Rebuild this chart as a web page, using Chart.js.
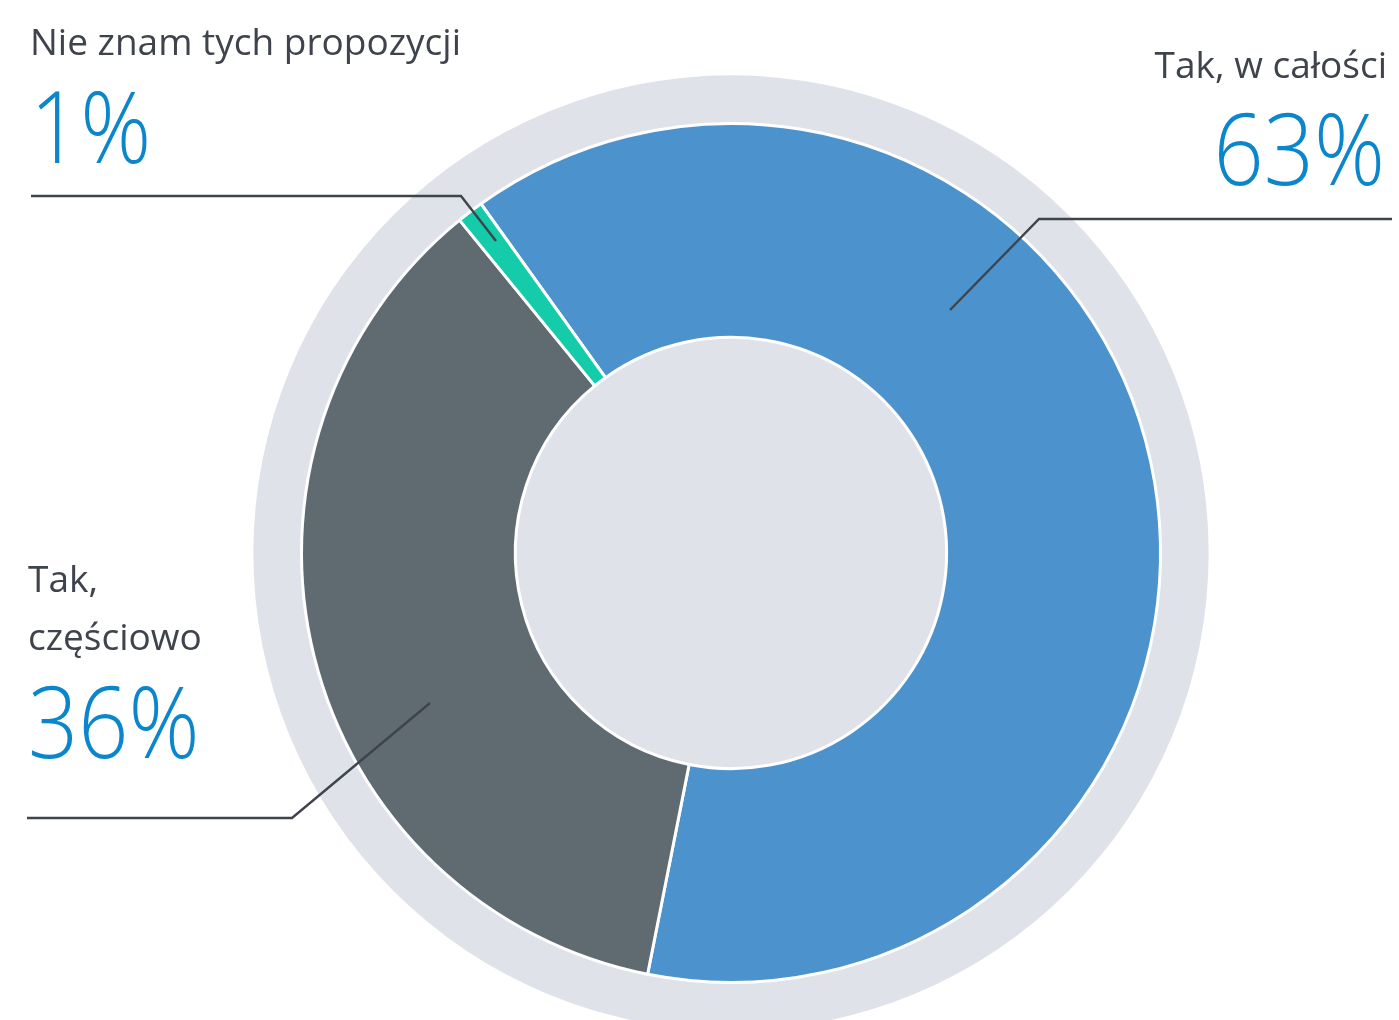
<!DOCTYPE html>
<html>
<head>
<meta charset="utf-8">
<script src="https://cdn.jsdelivr.net/npm/chart.js@4/dist/chart.umd.min.js"></script>
<style>
  html, body { margin: 0; padding: 0; background: #fff; }
  #wrap { width: 1399px; height: 1020px; position: relative; }
</style>
</head>
<body>
<div id="wrap"><canvas id="chart"></canvas></div>
<script>
// data
const labels = ['Tak, w całości', 'Tak, częściowo', 'Nie znam tych propozycji'];
const values = [63, 36, 1];
const colors = ['#4c93ce', '#5f6b71', '#14ccaa'];
const percentText = ['63%', '36%', '1%'];

const TEXT_DARK = '#3f434c';
const TEXT_BLUE = '#0b86cc';
const RING_GRAY = '#dfe2e9';

// backdrop: big gray disc behind the ring and the filled hole
const backdrop = {
  id: 'backdrop',
  beforeDatasetsDraw(chart) {
    const arc = chart.getDatasetMeta(0).data[0];
    if (!arc) return;
    const ctx = chart.ctx;
    ctx.save();
    ctx.fillStyle = RING_GRAY;
    ctx.beginPath();
    ctx.arc(arc.x, arc.y, arc.outerRadius * 476 / 428, 0, Math.PI * 2);
    ctx.fill();
    ctx.restore();
  }
};

// callout labels + leader lines
const callouts = [
  { idx: 2, align: 'left', x: 30, lines: ['Nie znam tych propozycji'], lineY: [55], pctY: 163,
    leader: [[31, 196], [461, 196], [496, 241]] },
  { idx: 0, align: 'right', x: 1387, lines: ['Tak, w całości'], lineY: [78], pctY: 185,
    leader: [[950, 310], [1039, 219], [1392, 219]] },
  { idx: 1, align: 'left', x: 28, lines: ['Tak,', 'częściowo'], lineY: [592, 650], pctY: 758,
    leader: [[430, 703], [292, 818], [27, 818]] }
];

const calloutPlugin = {
  id: 'callouts',
  afterDraw(chart) {
    const ctx = chart.ctx;
    ctx.save();
    callouts.forEach(c => {
      ctx.strokeStyle = TEXT_DARK;
      ctx.lineWidth = 2.4;
      ctx.beginPath();
      c.leader.forEach((p, i) => i ? ctx.lineTo(p[0], p[1]) : ctx.moveTo(p[0], p[1]));
      ctx.stroke();

      ctx.textAlign = c.align;
      ctx.textBaseline = 'alphabetic';
      ctx.fillStyle = TEXT_DARK;
      ctx.font = '400 37px "Open Sans"';
      c.lines.forEach((t, i) => ctx.fillText(t, c.x, c.lineY[i]));

      // big percentage, slightly condensed
      const px = c.x - (c.align === 'right' ? 2 : 0);
      ctx.save();
      ctx.translate(px, c.pctY);
      ctx.scale(0.88, 1);
      ctx.fillStyle = TEXT_BLUE;
      ctx.font = '300 100px "Open Sans"';
      ctx.fillText(percentText[c.idx], 0, 0);
      ctx.restore();
    });
    ctx.restore();
  }
};

new Chart(document.getElementById('chart'), {
  type: 'doughnut',
  data: {
    labels: labels,
    datasets: [{
      data: values,
      backgroundColor: colors,
      borderColor: '#ffffff',
      borderWidth: 3,
      hoverOffset: 0
    }]
  },
  options: {
    responsive: true,
    maintainAspectRatio: false,
    animation: false,
    events: [],
    rotation: -35.6,
    cutout: '50.2%',
    layout: { padding: { left: 300, right: 237, top: 122, bottom: 36 } },
    plugins: {
      legend: { display: false },
      tooltip: { enabled: false }
    }
  },
  plugins: [backdrop, calloutPlugin]
});
</script>
</body>
</html>
